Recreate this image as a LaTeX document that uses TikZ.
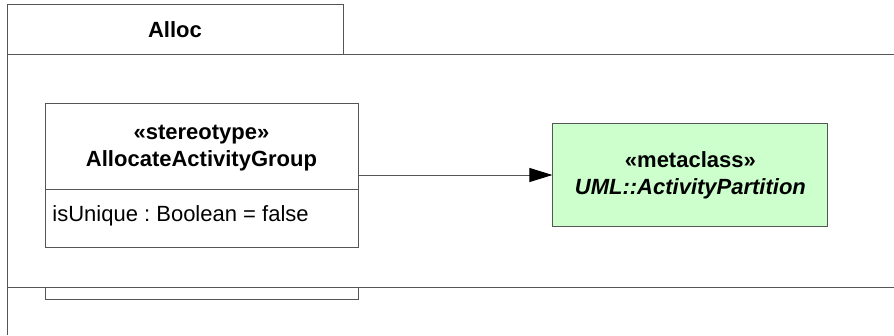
\documentclass[tikz,border=0pt]{standalone}
\usepackage{fontspec}
\setmainfont{Liberation Sans}
\usetikzlibrary{arrows.meta,positioning}
\definecolor{linegray}{HTML}{555555}
\definecolor{metafill}{HTML}{CCFFCC}
\frenchspacing

\begin{document}
\begin{tikzpicture}[x=1pt,y=-1pt,line width=.9pt,
  txt/.style={font=\fontsize{22}{27}\selectfont,inner sep=0pt},
  frame/.style={draw=linegray},
  clsbox/.style={draw=linegray,minimum width=313pt,minimum height=144pt,inner sep=0pt},
  metabox/.style={draw=linegray,fill=metafill,minimum width=275pt,minimum height=103pt,align=center,txt,font=\fontsize{22}{27}\selectfont\bfseries}]
\useasboundingbox (0,0) rectangle (894,335);
% package frame with its tab
\draw[frame] (7,335) |- (343,4) -- (343,54);
\draw[frame] (7,54) -- (894,54);
\draw[frame] (7,287) -- (894,287);
\node[txt,font=\fontsize{22}{27}\selectfont\bfseries] (pkg) at (175,30) {Alloc};
% stereotype
\node[clsbox] (grp) at (201.5,175) {};
\draw[frame] ([yshift=-87pt]grp.north west) -- ([yshift=-87pt]grp.north east);
\node[txt,align=center,font=\fontsize{22}{27}\selectfont\bfseries] (grpname) at (201.5,148.5) {«stereotype»\\AllocateActivityGroup};
\node[txt,anchor=west] (grpattr) at (52,216) {isUnique : Boolean = false};
\draw[frame] (45,287) -- (45,299) -- (358,299) -- (358,287);
% metaclass
\node[metabox,right=194pt of grp] (part) {«metaclass»\\\textit{UML::ActivityPartition}};
\draw[frame,-{Triangle[length=23pt,width=14pt,color=black]}] (grp) -- (part);
\end{tikzpicture}
\end{document}
